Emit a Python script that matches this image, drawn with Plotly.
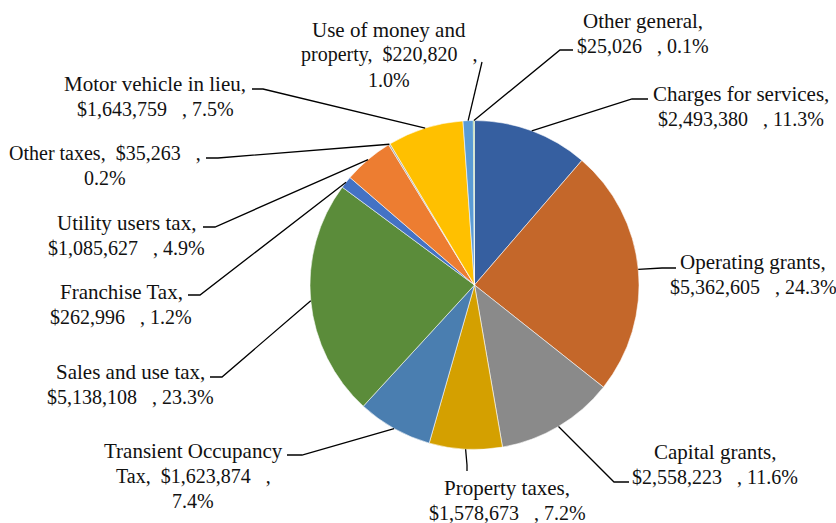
import math
import plotly.graph_objects as go

# CONFIG
W, H = 836, 523
FONT = "Liberation Serif"
NAME_SIZE = 21
VALUE_SIZE = 20
LINE_GAP = 25

categories = [
    "Charges for services", "Operating grants", "Capital grants",
    "Property taxes", "Transient Occupancy|Tax", "Sales and use tax",
    "Franchise Tax", "Utility users tax", "Other taxes",
    "Motor vehicle in lieu", "Use of money and|property", "Other general",
]
values = [
    2493380, 5362605, 2558223, 1578673, 1623874, 5138108,
    262996, 1085627, 35263, 1643759, 220820, 25026,
]
colors = [
    "#365FA0", "#C4672A", "#8A8A8A", "#D4A000", "#4A7EB0", "#5B8C3A",
    "#4472C4", "#ED7D31", "#A5A5A5", "#FFC000", "#5B9BD5", "#70AD47",
]

# label layout: template, text centre (px), leader elbow and end (px)
SHORT = "{n},|{v}\u00a0\u00a0\u00a0, {p}"
INLINE = "{n},\u00a0\u00a0{v}\u00a0\u00a0\u00a0,|{p}"
templates = [SHORT, SHORT, SHORT, SHORT, INLINE, SHORT,
             SHORT, SHORT, INLINE, SHORT, INLINE, SHORT]
label_pos = [(741, 94), (753, 262), (715, 452), (507, 488), (193, 451), (130, 372),
             (121, 292), (127, 223), (105, 153), (155, 84), (389, 30), (643, 21)]
elbows = [(632, 99), (662, 268), (614, 482), (467, 465), (302, 455), (222, 377),
          (200, 295), (215, 227), (218, 158), (263, 89), (482, 62), (560, 50)]
ends = [(648, 99), (676, 268), (629, 482), (467, 471), (287, 455), (210, 377),
        (188, 295), (203, 227), (206, 158), (252, 89), (482, 62), (573, 50)]

# pie placement (px)
CX, CY, R = 474.5, 285, 164.5

def px(x, y): return x / W, 1 - y / H

total = sum(values)

fig = go.Figure(go.Pie(
    labels=[c.replace("|", " ") for c in categories],
    values=values,
    sort=False,
    direction="clockwise",
    rotation=0,
    marker=dict(colors=colors, line=dict(color="rgba(255,255,255,0.7)", width=0.8)),
    textinfo="none",
    hoverinfo="label+value+percent",
    showlegend=False,
    domain=dict(x=[(CX - R) / W, (CX + R) / W], y=[1 - (CY + R) / H, 1 - (CY - R) / H]),
))

cum = 0
for i, (name, v) in enumerate(zip(categories, values)):
    frac = v / total
    theta = 2 * math.pi * (cum + frac / 2)
    cum += frac
    sx, sy = CX + R * math.sin(theta), CY - R * math.cos(theta)

    # leader line
    pts = [px(sx, sy), px(*elbows[i]), px(*ends[i])]
    path = "M {} {} L {} {} L {} {}".format(*[c for p in pts for c in p])
    fig.add_shape(type="path", path=path, xref="paper", yref="paper",
                  line=dict(color="black", width=1.3))

    text = templates[i].format(n=name, v=f"${v:,}", p=f"{frac * 100:.1f}%")
    lx, ly = label_pos[i]
    for j, line in enumerate(text.split("|")):
        ax, ay = px(lx, ly + j * LINE_GAP)
        size = VALUE_SIZE if ("$" in line or "%" in line) else NAME_SIZE
        fig.add_annotation(x=ax, y=ay, xref="paper", yref="paper", text=line,
                           showarrow=False, xanchor="center", yanchor="middle",
                           font=dict(family=FONT, size=size, color="#111111"))

fig.update_layout(
    width=W, height=H,
    margin=dict(l=0, r=0, t=0, b=0),
    paper_bgcolor="white",
    plot_bgcolor="white",
)

# drop the default 8px page margin so the figure fills the window
fig.write_html("out.html", config={"displayModeBar": False},
               post_script="document.body.style.margin='0';")
